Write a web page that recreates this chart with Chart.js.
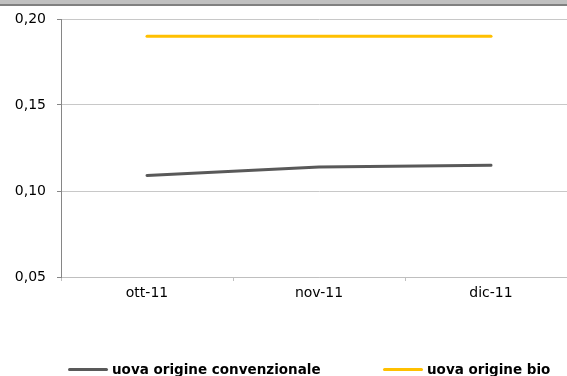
<!DOCTYPE html>
<html>
<head>
<meta charset="utf-8">
<script src="https://cdn.jsdelivr.net/npm/chart.js@4/dist/chart.umd.min.js"></script>
<style>
  html, body { margin: 0; padding: 0; background: #fff; overflow: hidden; }
  body { width: 567px; height: 376px; position: relative; font-family: "DejaVu Sans", Verdana, sans-serif; }
  #topbar { position: absolute; left: 0; top: 0; width: 567px; height: 4px; background: #c0c0c0; border-bottom: 2px solid #808080; }
  #wrap { position: absolute; left: 0; top: 6px; width: 580px; height: 370px; }
  #legend { position: absolute; left: 68px; top: 361px; height: 18px; white-space: nowrap; }
  .item { position: absolute; top: 0; display: flex; align-items: center; font-weight: bold; font-size: 13.5px; color: #000; }
  .swatch { width: 40px; height: 3px; border-radius: 2px; margin-right: 4px; }
</style>
</head>
<body>
<div id="topbar"></div>
<div id="wrap"><canvas id="chart"></canvas></div>
<div id="legend"></div>
<script>
// months on the x axis
const months = ['ott-11', 'nov-11', 'dic-11'];
// prices per series
const convenzionale = [0.109, 0.114, 0.115];
const bio = [0.190, 0.190, 0.190];
// y axis range
const yMin = 0.05;
const yMax = 0.20;
const yStep = 0.05;

const seriesNames = ['uova origine convenzionale', 'uova origine bio'];
const seriesColors = ['#595959', '#ffc000'];

const chart = new Chart(document.getElementById('chart'), {
  type: 'line',
  data: {
    labels: months,
    datasets: [
      { label: seriesNames[0], data: convenzionale, borderColor: seriesColors[0], backgroundColor: seriesColors[0] },
      { label: seriesNames[1], data: bio, borderColor: seriesColors[1], backgroundColor: seriesColors[1] }
    ]
  },
  options: {
    responsive: true,
    maintainAspectRatio: false,
    animation: false,
    layout: { padding: { top: 13, right: 3, left: 0, bottom: 0 } },
    elements: {
      line: { borderWidth: 3, tension: 0, borderCapStyle: 'round' },
      point: { radius: 0, hoverRadius: 0 }
    },
    plugins: {
      legend: { display: false },
      tooltip: { enabled: false }
    },
    scales: {
      x: {
        offset: true,
        grid: { offset: true, drawOnChartArea: false, drawTicks: true, tickLength: 4, color: '#c0c0c0' },
        border: { color: '#bfbfbf', width: 1 },
        ticks: { color: '#000', padding: 4, font: { family: 'DejaVu Sans', size: 14 } },
        afterFit: (scale) => { scale.height = 99; }
      },
      y: {
        min: yMin,
        max: yMax,
        grid: { color: '#c8c8c8', tickColor: '#868686', tickLength: 4 },
        border: { color: '#868686', width: 1 },
        ticks: {
          stepSize: yStep,
          color: '#000',
          padding: 11,
          font: { family: 'DejaVu Sans', size: 14 },
          callback: (v) => v.toFixed(2).replace('.', ',')
        },
        afterFit: (scale) => {
          scale.width = 61;
          // the top padding is fixed by the layout instead
          scale.paddingTop = 0;
          scale.paddingBottom = 0;
        }
      }
    }
  }
});

// legend built from the datasets
const legendEl = document.getElementById('legend');
const legendX = [0, 315];
chart.data.datasets.forEach((ds, i) => {
  const item = document.createElement('div');
  item.className = 'item';
  item.style.left = legendX[i] + 'px';
  item.innerHTML = `<span class="swatch" style="background:${ds.borderColor}"></span>${ds.label}`;
  legendEl.appendChild(item);
});
</script>
</body>
</html>
